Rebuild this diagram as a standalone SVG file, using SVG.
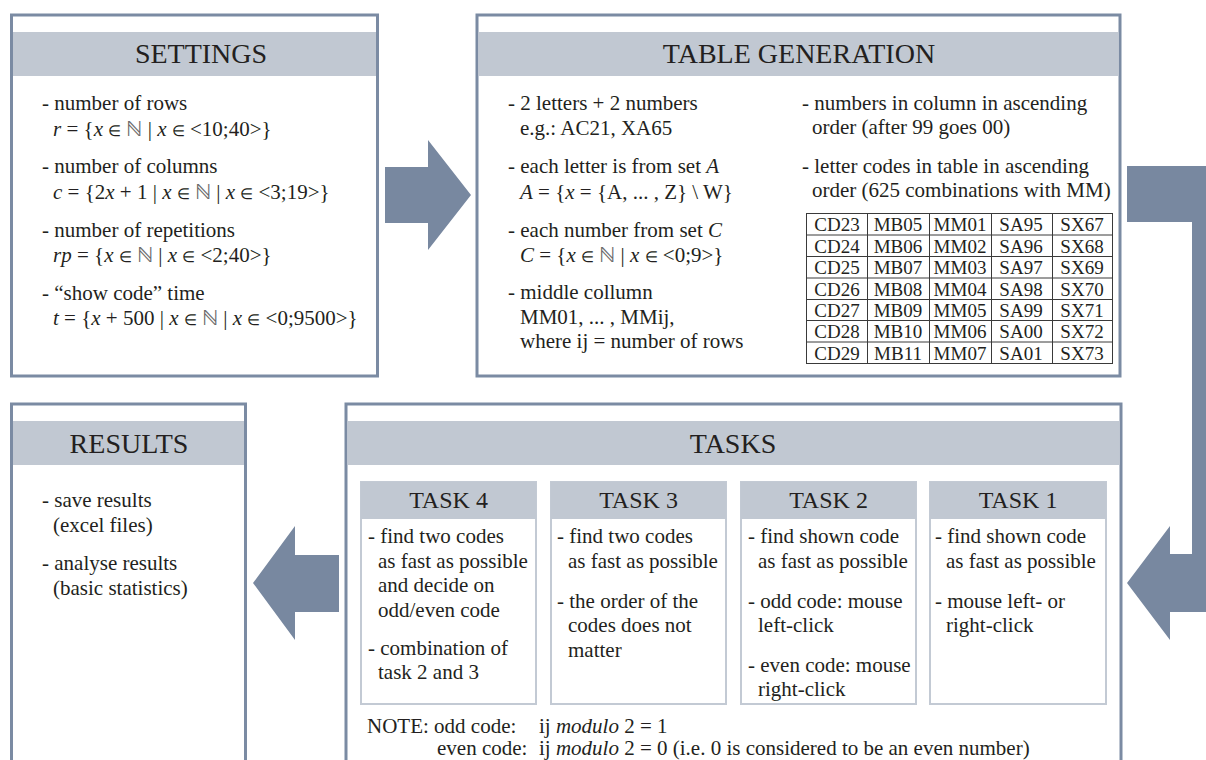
<svg xmlns="http://www.w3.org/2000/svg" width="1206" height="760" viewBox="0 0 1206 760">
<style>
.box{fill:#fff;stroke:#7b8ba3;stroke-width:3}
.hdr{fill:#c1c8d2}
.sub{fill:#fff;stroke:#c3cad4;stroke-width:2}
.arrow{fill:#7888a0}
text{font-family:"Liberation Serif","Times New Roman",serif;fill:#231f20}
.ttl{font-size:28px;text-anchor:middle}
.st{font-size:24px;text-anchor:middle}
.b{font-size:21px}
.c{font-size:19px;text-anchor:middle}
.i{font-style:italic}
.e{font-size:15px}
.n{fill:#6a6a6a}
.grid{fill:none;stroke:#3a3a3a;stroke-width:1}
</style>
<rect width="1206" height="760" fill="#fff"/>

<g id="connectors">
<polygon class="arrow" points="385,167 428,167 428,140 471,195 428,250 428,223 385,223"/>
<path class="arrow" d="M1127,166 H1206 V612 H1170 V640 L1127,583 L1170,526 V554 H1192 V222 H1127 Z"/>
<polygon class="arrow" points="339,555 295,555 295,526 253,583 295,640 295,612 339,612"/>
</g>

<g id="settings">
<rect class="box" x="11.5" y="15" width="366" height="361"/>
<rect class="hdr" x="13" y="32" width="363" height="44"/>
<text class="ttl" x="201" y="63">SETTINGS</text>
<text class="b" x="42" y="110">- number of rows</text>
<text class="b" x="53" y="136"><tspan class="i">r</tspan> = {<tspan class="i">x</tspan> <tspan class="e">∈</tspan> <tspan class="n">ℕ</tspan> | <tspan class="i">x</tspan> <tspan class="e">∈</tspan> &lt;10;40&gt;}</text>
<text class="b" x="42" y="173">- number of columns</text>
<text class="b" x="53" y="199"><tspan class="i">c</tspan> = {2<tspan class="i">x</tspan> + 1 | <tspan class="i">x</tspan> <tspan class="e">∈</tspan> <tspan class="n">ℕ</tspan> | <tspan class="i">x</tspan> <tspan class="e">∈</tspan> &lt;3;19&gt;}</text>
<text class="b" x="42" y="237">- number of repetitions</text>
<text class="b" x="53" y="262"><tspan class="i">rp</tspan> = {<tspan class="i">x</tspan> <tspan class="e">∈</tspan> <tspan class="n">ℕ</tspan> | <tspan class="i">x</tspan> <tspan class="e">∈</tspan> &lt;2;40&gt;}</text>
<text class="b" x="42" y="300">- “show code” time</text>
<text class="b" x="53" y="325"><tspan class="i">t</tspan> = {<tspan class="i">x</tspan> + 500 | <tspan class="i">x</tspan> <tspan class="e">∈</tspan> <tspan class="n">ℕ</tspan> | <tspan class="i">x</tspan> <tspan class="e">∈</tspan> &lt;0;9500&gt;}</text>
</g>

<g id="table-generation">
<rect class="box" x="477" y="15" width="643" height="361"/>
<rect class="hdr" x="478.5" y="32" width="640" height="44"/>
<text class="ttl" x="799" y="63">TABLE GENERATION</text>
<text class="b" x="508" y="110">- 2 letters + 2 numbers</text>
<text class="b" x="520" y="135">e.g.: AC21, XA65</text>
<text class="b" x="508" y="173">- each letter is from set <tspan class="i">A</tspan></text>
<text class="b" x="520" y="199"><tspan class="i">A</tspan> = {<tspan class="i">x</tspan> = {A, ... , Z} \ W}</text>
<text class="b" x="508" y="237">- each number from set <tspan class="i">C</tspan></text>
<text class="b" x="520" y="262"><tspan class="i">C</tspan> = {<tspan class="i">x</tspan> <tspan class="e">∈</tspan> <tspan class="n">ℕ</tspan> | <tspan class="i">x</tspan> <tspan class="e">∈</tspan> &lt;0;9&gt;}</text>
<text class="b" x="508" y="299">- middle collumn</text>
<text class="b" x="520" y="324">MM01, ... , MMij,</text>
<text class="b" x="520" y="348">where ij = number of rows</text>
<text class="b" x="802" y="110">- numbers in column in ascending</text>
<text class="b" x="812" y="134">order (after 99 goes 00)</text>
<text class="b" x="802" y="173">- letter codes in table in ascending</text>
<text class="b" x="812" y="197">order (625 combinations with MM)</text>
<g id="code-table">
<rect class="grid" x="806.5" y="213.5" width="306" height="150"/>
<path class="grid" d="M867.5,213.5V363.5M929.5,213.5V363.5M991.5,213.5V363.5M1052.5,213.5V363.5M806.5,235H1112.5M806.5,256.5H1112.5M806.5,278H1112.5M806.5,299.5H1112.5M806.5,320.5H1112.5M806.5,342H1112.5"/>
<text class="c" x="837" y="231">CD23</text><text class="c" x="898" y="231">MB05</text><text class="c" x="960" y="231">MM01</text><text class="c" x="1021" y="231">SA95</text><text class="c" x="1082" y="231">SX67</text>
<text class="c" x="837" y="252.5">CD24</text><text class="c" x="898" y="252.5">MB06</text><text class="c" x="960" y="252.5">MM02</text><text class="c" x="1021" y="252.5">SA96</text><text class="c" x="1082" y="252.5">SX68</text>
<text class="c" x="837" y="274">CD25</text><text class="c" x="898" y="274">MB07</text><text class="c" x="960" y="274">MM03</text><text class="c" x="1021" y="274">SA97</text><text class="c" x="1082" y="274">SX69</text>
<text class="c" x="837" y="295.5">CD26</text><text class="c" x="898" y="295.5">MB08</text><text class="c" x="960" y="295.5">MM04</text><text class="c" x="1021" y="295.5">SA98</text><text class="c" x="1082" y="295.5">SX70</text>
<text class="c" x="837" y="317">CD27</text><text class="c" x="898" y="317">MB09</text><text class="c" x="960" y="317">MM05</text><text class="c" x="1021" y="317">SA99</text><text class="c" x="1082" y="317">SX71</text>
<text class="c" x="837" y="338">CD28</text><text class="c" x="898" y="338">MB10</text><text class="c" x="960" y="338">MM06</text><text class="c" x="1021" y="338">SA00</text><text class="c" x="1082" y="338">SX72</text>
<text class="c" x="837" y="359.5">CD29</text><text class="c" x="898" y="359.5">MB11</text><text class="c" x="960" y="359.5">MM07</text><text class="c" x="1021" y="359.5">SA01</text><text class="c" x="1082" y="359.5">SX73</text>
</g>
</g>

<g id="results">
<rect class="box" x="11.5" y="404" width="234" height="380"/>
<rect class="hdr" x="13" y="421" width="231" height="44"/>
<text class="ttl" x="129" y="453">RESULTS</text>
<text class="b" x="42" y="507">- save results</text>
<text class="b" x="53" y="532">(excel files)</text>
<text class="b" x="42" y="570">- analyse results</text>
<text class="b" x="53" y="595">(basic statistics)</text>
</g>

<g id="tasks">
<rect class="box" x="346" y="404" width="775" height="380"/>
<rect class="hdr" x="347.5" y="421" width="772" height="44"/>
<text class="ttl" x="733" y="453">TASKS</text>
<text class="b" x="367" y="733">NOTE: odd code:</text>
<text class="b" x="539" y="733">ij <tspan class="i">modulo</tspan> 2 = 1</text>
<text class="b" x="437" y="755">even code:</text>
<text class="b" x="539" y="755">ij <tspan class="i">modulo</tspan> 2 = 0 (i.e. 0 is considered to be an even number)</text>
</g>

<g id="task4">
<rect class="sub" x="361" y="482" width="175" height="222"/>
<rect class="hdr" x="361" y="482" width="175" height="37"/>
<text class="st" x="448.5" y="508">TASK 4</text>
<text class="b" x="368" y="543">- find two codes</text>
<text class="b" x="378" y="568">as fast as possible</text>
<text class="b" x="378" y="592">and decide on</text>
<text class="b" x="378" y="617">odd/even code</text>
<text class="b" x="368" y="655">- combination of</text>
<text class="b" x="378" y="679">task 2 and 3</text>
</g>

<g id="task3">
<rect class="sub" x="551" y="482" width="175" height="222"/>
<rect class="hdr" x="551" y="482" width="175" height="37"/>
<text class="st" x="638.5" y="508">TASK 3</text>
<text class="b" x="557" y="543">- find two codes</text>
<text class="b" x="568" y="568">as fast as possible</text>
<text class="b" x="557" y="608">- the order of the</text>
<text class="b" x="568" y="632">codes does not</text>
<text class="b" x="568" y="657">matter</text>
</g>

<g id="task2">
<rect class="sub" x="741" y="482" width="175" height="222"/>
<rect class="hdr" x="741" y="482" width="175" height="37"/>
<text class="st" x="828.5" y="508">TASK 2</text>
<text class="b" x="748" y="543">- find shown code</text>
<text class="b" x="758" y="568">as fast as possible</text>
<text class="b" x="748" y="608">- odd code: mouse</text>
<text class="b" x="758" y="632">left-click</text>
<text class="b" x="748" y="672">- even code: mouse</text>
<text class="b" x="758" y="696">right-click</text>
</g>

<g id="task1">
<rect class="sub" x="930" y="482" width="176" height="222"/>
<rect class="hdr" x="930" y="482" width="176" height="37"/>
<text class="st" x="1018" y="508">TASK 1</text>
<text class="b" x="935" y="543">- find shown code</text>
<text class="b" x="946" y="568">as fast as possible</text>
<text class="b" x="935" y="608">- mouse left- or</text>
<text class="b" x="946" y="632">right-click</text>
</g>
</svg>
